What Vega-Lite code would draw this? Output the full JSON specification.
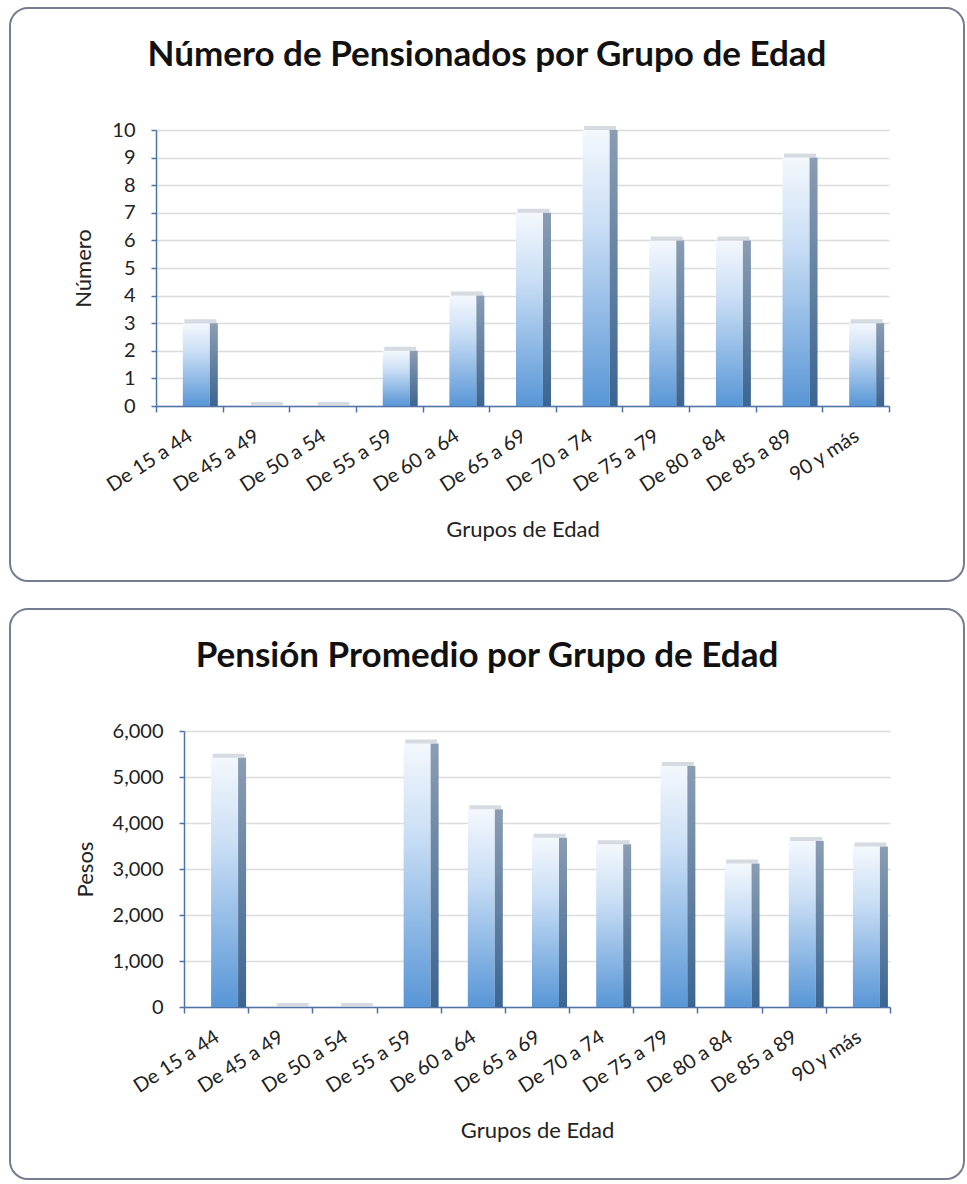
{
  "$schema": "https://vega.github.io/schema/vega-lite/v6.json",
  "padding": {"left": 3, "top": 7, "right": 4, "bottom": 4},
  "background": "white",
  "config": {
    "font": "Lato",
    "view": {"stroke": "#767d91", "strokeWidth": 2, "cornerRadius": 18, "fill": "white"},
    "concat": {"spacing": 26},
    "axis": {
      "domainColor": "#4f73a8", "domainWidth": 1.5,
      "tickColor": "#4f73a8", "tickWidth": 1.5,
      "labelColor": "#222222", "titleColor": "#222222",
      "labelFont": "Lato", "titleFont": "Lato", "titleFontWeight": "normal",
      "gridColor": "#dcdcdc", "gridWidth": 1.5,
      "labelOverlap": false
    },
    "title": {"font": "Lato", "fontWeight": "bold", "color": "#111111"}
  },
  "datasets": {
    "pens": [
      {"grupo": "De 15 a 44", "n": 3},
      {"grupo": "De 45 a 49", "n": 0},
      {"grupo": "De 50 a 54", "n": 0},
      {"grupo": "De 55 a 59", "n": 2},
      {"grupo": "De 60 a 64", "n": 4},
      {"grupo": "De 65 a 69", "n": 7},
      {"grupo": "De 70 a 74", "n": 10},
      {"grupo": "De 75 a 79", "n": 6},
      {"grupo": "De 80 a 84", "n": 6},
      {"grupo": "De 85 a 89", "n": 9},
      {"grupo": "90 y más", "n": 3}
    ],
    "prom": [
      {"grupo": "De 15 a 44", "pesos": 5420},
      {"grupo": "De 45 a 49", "pesos": 0},
      {"grupo": "De 50 a 54", "pesos": 0},
      {"grupo": "De 55 a 59", "pesos": 5730},
      {"grupo": "De 60 a 64", "pesos": 4300},
      {"grupo": "De 65 a 69", "pesos": 3680},
      {"grupo": "De 70 a 74", "pesos": 3540},
      {"grupo": "De 75 a 79", "pesos": 5240},
      {"grupo": "De 80 a 84", "pesos": 3120},
      {"grupo": "De 85 a 89", "pesos": 3610},
      {"grupo": "90 y más", "pesos": 3490}
    ]
  },
  "vconcat": [
    {
      "width": 954,
      "height": 573,
      "data": {"name": "pens"},
      "title": {"text": "Número de Pensionados por Grupo de Edad", "fontSize": 35, "anchor": "middle", "frame": "group", "offset": -93, "baseline": "alphabetic"},
      "encoding": {
        "x": {
          "field": "grupo", "type": "nominal", "sort": null,
          "scale": {"range": [146, 879], "paddingInner": 0, "paddingOuter": 0},
          "axis": {"title": "Grupos de Edad", "offset": -175, "labelAngle": -33, "labelAlign": "right", "labelBaseline": "middle", "labelFontSize": 20, "labelPadding": 22, "labelOffset": 1, "tickBand": "extent", "tickSize": 6, "titleFontSize": 22, "titlePadding": 24, "grid": false}
        },
        "y": {
          "field": "n", "type": "quantitative",
          "scale": {"domain": [0, 10], "range": [398, 122], "nice": false},
          "axis": {"title": "Número", "offset": -146, "values": [0, 1, 2, 3, 4, 5, 6, 7, 8, 9, 10], "labelFontSize": 20, "labelPadding": 16, "tickSize": 5, "titleFontSize": 22, "titlePadding": 16, "grid": true}
        }
      },
      "layer": [
        {"mark": {"type": "bar", "width": 27, "xOffset": 7, "color": {"gradient": "linear", "x1": 0, "y1": 0, "x2": 0, "y2": 1, "stops": [{"offset": 0, "color": "#f4f8fd"}, {"offset": 0.35, "color": "#c9def5"}, {"offset": 1, "color": "#5896d6"}]}}},
        {"mark": {"type": "bar", "width": 8, "xOffset": 24.5, "color": {"gradient": "linear", "x1": 0, "y1": 0, "x2": 0, "y2": 1, "stops": [{"offset": 0, "color": "#8a9db3"}, {"offset": 1, "color": "#3c6591"}]}}},
        {"mark": {"type": "tick", "orient": "horizontal", "size": 32, "thickness": 4, "xOffset": 11, "yOffset": -2, "color": "#c5ccd5"}}
      ]
    },
    {
      "width": 954,
      "height": 570,
      "data": {"name": "prom"},
      "title": {"text": "Pensión Promedio por Grupo de Edad", "fontSize": 35, "anchor": "middle", "frame": "group", "offset": -93, "baseline": "alphabetic"},
      "encoding": {
        "x": {
          "field": "grupo", "type": "nominal", "sort": null,
          "scale": {"range": [174, 880], "paddingInner": 0, "paddingOuter": 0},
          "axis": {"title": "Grupos de Edad", "offset": -172, "labelAngle": -33, "labelAlign": "right", "labelBaseline": "middle", "labelFontSize": 20, "labelPadding": 22, "labelOffset": 1, "tickBand": "extent", "tickSize": 6, "titleFontSize": 22, "titlePadding": 24, "grid": false}
        },
        "y": {
          "field": "pesos", "type": "quantitative",
          "scale": {"domain": [0, 6000], "range": [398, 122], "nice": false},
          "axis": {"title": "Pesos", "offset": -174, "values": [0, 1000, 2000, 3000, 4000, 5000, 6000], "format": ",.0f", "labelFontSize": 20, "labelPadding": 16, "tickSize": 5, "titleFontSize": 22, "titlePadding": 15, "grid": true}
        }
      },
      "layer": [
        {"mark": {"type": "bar", "width": 27, "xOffset": 8.5, "color": {"gradient": "linear", "x1": 0, "y1": 0, "x2": 0, "y2": 1, "stops": [{"offset": 0, "color": "#f4f8fd"}, {"offset": 0.35, "color": "#c9def5"}, {"offset": 1, "color": "#5896d6"}]}}},
        {"mark": {"type": "bar", "width": 8, "xOffset": 26, "color": {"gradient": "linear", "x1": 0, "y1": 0, "x2": 0, "y2": 1, "stops": [{"offset": 0, "color": "#8a9db3"}, {"offset": 1, "color": "#3c6591"}]}}},
        {"mark": {"type": "tick", "orient": "horizontal", "size": 32, "thickness": 4, "xOffset": 12.5, "yOffset": -2, "color": "#c5ccd5"}}
      ]
    }
  ]
}
